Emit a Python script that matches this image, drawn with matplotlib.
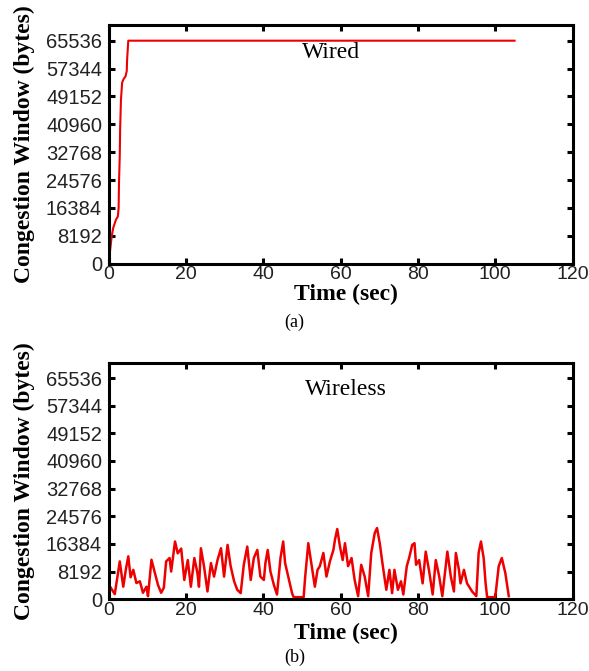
import matplotlib.pyplot as plt

# wired trace (top panel)
wired_t = [0, 0.3, 0.7, 1.1, 1.8, 2.3, 2.5, 2.6, 2.8, 2.9, 3.1, 3.4, 3.8, 4.3, 4.6, 4.7, 5.0, 105.0]
wired_w = [1000, 4000, 8000, 10500, 12900, 13900, 16400, 24000, 32000, 40000, 48000, 53200,
           54300, 55100, 56600, 60000, 65536, 65536]

# wireless trace (bottom panel)
wireless_t = [0.0, 0.3, 1.5, 2.8, 3.7, 4.4, 5.0, 5.6, 6.3, 7.1, 8.0, 8.8, 9.7, 10.1, 11.0, 11.8,
              12.7, 13.5, 14.2, 14.8, 15.7, 16.1, 17.1, 17.8, 18.7, 19.5, 20.4, 21.2, 22.1, 22.9,
              23.3, 23.8, 24.6, 25.5, 26.4, 27.2, 28.1, 29.0, 29.8, 30.7, 31.5, 32.4, 33.2, 34.1,
              34.9, 35.8, 36.7, 37.5, 38.4, 39.2, 40.1, 40.5, 41.1, 41.8, 42.7, 43.5, 44.4, 45.1,
              45.6, 46.5, 47.4, 47.8, 50.4, 50.8, 51.6, 52.5, 53.3, 54.0, 54.6, 55.5, 56.3, 57.2,
              58.1, 58.5, 59.1, 59.8, 60.5, 61.1, 61.9, 62.8, 63.6, 64.5, 65.3, 66.2, 67.1, 67.9,
              68.8, 69.4, 70.1, 70.9, 71.8, 72.6, 73.3, 73.9, 74.8, 75.6, 76.2, 77.1, 77.7, 78.5,
              79.1, 79.5, 80.3, 81.2, 82.0, 82.9, 83.8, 84.6, 85.5, 86.3, 87.6, 88.5, 89.3, 89.8,
              90.6, 91.0, 91.9, 92.7, 94.0, 95.1, 95.7, 96.3, 97.0, 97.5, 97.9, 100.0, 100.9,
              101.7, 102.6, 103.3, 103.5]
wireless_w = [2000, 3700, 1500, 11200, 3700, 9000, 12700, 6500, 8700, 4800, 5300, 1900, 3700, 900,
              11700, 8200, 4200, 1900, 3400, 11200, 12200, 8200, 17100, 13600, 15000, 5700, 11600,
              3700, 12200, 7800, 3700, 15100, 9800, 2300, 10700, 6700, 11600, 15100, 6700, 16100,
              9800, 5300, 2800, 1800, 10200, 15600, 5700, 12200, 14600, 6700, 5700, 10700, 14600,
              8200, 4200, 1400, 12200, 17100, 10700, 6200, 1800, 600, 600, 6700, 16600, 9800, 3700,
              8700, 9800, 13700, 6700, 11200, 14600, 17600, 20800, 15600, 11600, 16600, 9800, 12200,
              5700, 900, 10200, 6700, 900, 13700, 19600, 21100, 16600, 9800, 2800, 8700, 1800, 8700,
              2800, 5300, 1400, 9800, 12200, 16100, 16600, 10200, 11600, 4700, 14100, 8200, 1400,
              11600, 6700, 900, 14100, 6700, 2300, 13700, 8700, 4700, 8700, 4700, 2300, 900, 13700,
              17100, 12200, 4700, 600, 600, 9800, 12200, 7800, 2300, 900]

x_ticks = [0, 20, 40, 60, 80, 100, 120]
y_ticks = [0, 8192, 16384, 24576, 32768, 40960, 49152, 57344, 65536]

fig = plt.figure(figsize=(5.89, 6.71), dpi=100)
ax_top = fig.add_axes([0.185, 0.607, 0.787, 0.355])
ax_bot = fig.add_axes([0.185, 0.107, 0.787, 0.352])

panels = [
    (ax_top, wired_t, wired_w, 'Wired', 57.6, 62100, -0.085, 1.5),
    (ax_bot, wireless_t, wireless_w, 'Wireless', 61.4, 62200, -0.1, 1.8),
]

for ax, t, w, name, tx, ty, ly, lw in panels:
    ax.plot(t, w, color='#ee0000', linewidth=lw)
    ax.set_xlim(0, 120)
    ax.set_ylim(0, 70000)
    ax.set_xticks(x_ticks)
    ax.set_yticks(y_ticks)
    ax.tick_params(direction='in', length=4, width=2.2, top=True, right=True,
                   labelsize=14.5, labelcolor='#222222', colors='black')
    ax.tick_params(axis='x', pad=2, labelsize=14)
    ax.tick_params(axis='y', pad=5)
    for lab in ax.get_xticklabels() + ax.get_yticklabels():
        lab.set_fontfamily('Liberation Sans')
    for sp in ax.spines.values():
        sp.set_linewidth(2.2)
    ax.text(tx, ty, name, fontsize=17, family='Liberation Serif', ha='center', va='center')
    ax.set_xlabel('Time (sec)', fontsize=17, fontweight='bold', family='Liberation Serif')
    ax.xaxis.set_label_coords(0.512, ly)
    ax.set_ylabel('Congestion Window (bytes)', fontsize=17, fontweight='bold',
                  family='Liberation Serif')
    ax.yaxis.set_label_coords(-0.16, 0.5)

fig.text(0.50, 1 - 322 / 671, '(a)', fontsize=13, family='Liberation Serif', ha='center', va='center')
fig.text(0.50, 1 - 657 / 671, '(b)', fontsize=13, family='Liberation Serif', ha='center', va='center')

fig.savefig('out.png', dpi=100)
